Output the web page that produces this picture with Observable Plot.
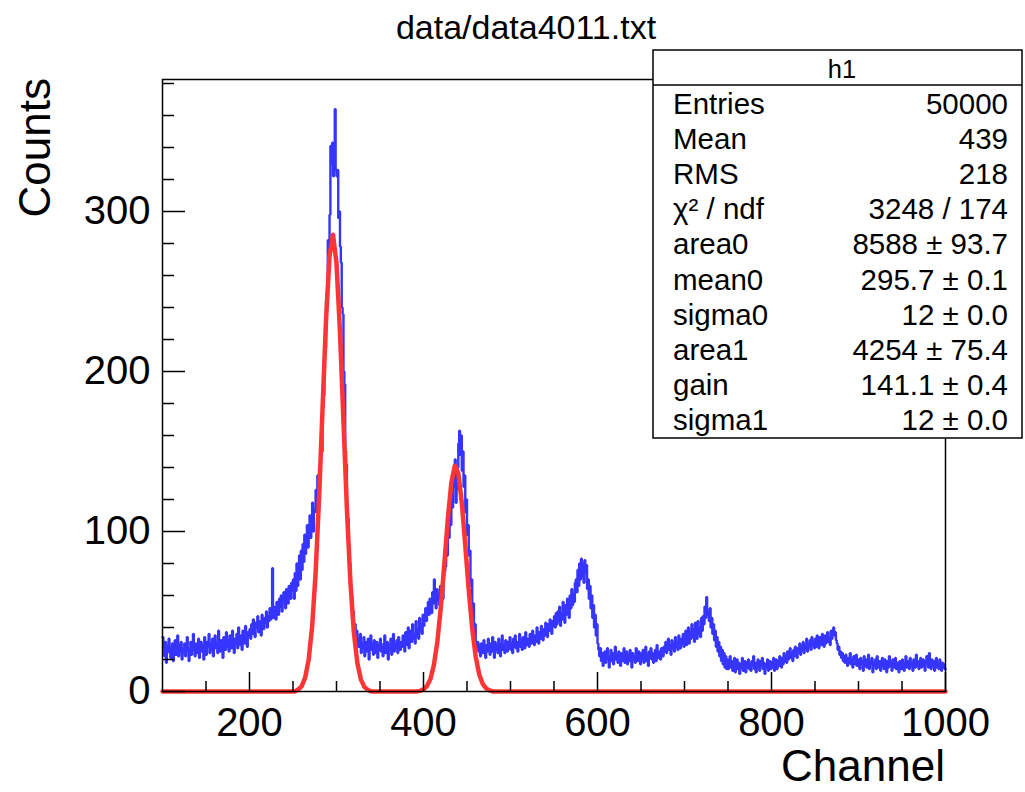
<!DOCTYPE html>
<html>
<head>
<meta charset="utf-8">
<script src="https://cdn.jsdelivr.net/npm/d3@7"></script>
<script src="https://cdn.jsdelivr.net/npm/@observablehq/plot@0.6"></script>
<style>
  html, body { margin: 0; padding: 0; background: white; }
  #wrap { position: relative; width: 1025px; height: 792px; font-family: "Liberation Sans", Arial, Helvetica, sans-serif; }
  #wrap svg { position: absolute; left: 0; top: 0; }
</style>
</head>
<body>
<div id="wrap"></div>
<script>
// ---- histogram: one bin per channel, first bin at channel 100 ----
const binLow = 100;
const binWidth = 1;
const counts = [
  34, 27, 22, 31, 18, 25, 29, 33, 24, 21, 28, 30, 19, 26, 32, 23, 27, 35, 22, 29, 25, 31, 20, 27, 24,
  30, 22, 28, 34, 25, 19, 27, 31, 23, 29, 36, 26, 22, 30, 28, 24, 33, 21, 27, 31, 25, 29, 20, 34, 27,
  23, 31, 28, 36, 24, 30, 26, 33, 22, 29, 35, 27, 31, 24, 38, 28, 25, 32, 29, 21, 34, 30, 26, 37, 28,
  32, 25, 35, 29, 27, 38, 31, 24, 33, 30, 36, 27, 40, 32, 29, 35, 26, 38, 33, 30, 41, 34, 28, 37, 35,
  39, 33, 42, 36, 45, 38, 34, 43, 40, 47, 37, 44, 41, 35, 48, 42, 39, 46, 43, 50, 40, 47, 44, 52, 45,
  49, 77, 46, 53, 50, 45, 56, 51, 48, 58, 53, 60, 50, 55, 62, 57, 52, 64, 59, 55, 66, 61, 58, 68, 63,
  70, 58, 74, 63, 80, 66, 72, 85, 70, 88, 76, 92, 81, 98, 86, 95, 104, 90, 100, 110, 96, 108, 118, 100, 112,
  114, 126, 112, 135, 122, 140, 130, 155, 150, 178, 185, 210, 215, 245, 250, 282, 276, 298, 341, 330, 343, 322, 341, 364, 326,
  322, 326, 296, 300, 278, 268, 240, 236, 200, 192, 150, 142, 112, 108, 82, 80, 62, 60, 45, 50, 36, 42, 30, 38, 28,
  33, 28, 36, 24, 30, 27, 34, 22, 29, 31, 25, 33, 20, 28, 35, 26, 30, 23, 32, 27, 24, 31, 21, 29, 26,
  33, 25, 28, 22, 30, 35, 24, 27, 31, 20, 29, 26, 33, 23, 28, 36, 25, 30, 27, 32, 24, 34, 29, 26, 31,
  28, 35, 30, 25, 37, 32, 29, 40, 27, 34, 38, 31, 42, 33, 36, 30, 44, 35, 39, 33, 46, 38, 42, 36, 48,
  41, 47, 52, 44, 50, 56, 48, 58, 53, 49, 62, 55, 70, 58, 52, 64, 57, 61, 54, 66, 60, 63, 58, 72, 75,
  78, 90, 85, 102, 96, 112, 104, 120, 115, 132, 128, 145, 118, 126, 140, 155, 163, 148, 160, 138, 150, 128, 135, 112, 120,
  98, 104, 85, 88, 66, 70, 50, 55, 38, 42, 30, 28, 31, 25, 29, 22, 30, 27, 24, 32, 26, 21, 29, 25, 33,
  27, 23, 30, 25, 34, 28, 21, 31, 26, 29, 24, 33, 27, 22, 30, 35, 26, 29, 24, 32, 28, 25, 31, 27, 34,
  26, 30, 24, 33, 28, 35, 27, 31, 25, 29, 36, 28, 32, 26, 34, 30, 27, 37, 29, 33, 31, 28, 36, 32, 30,
  38, 33, 29, 35, 31, 40, 34, 30, 37, 33, 41, 36, 32, 39, 35, 43, 37, 34, 42, 38, 45, 40, 36, 44, 41,
  47, 40, 49, 42, 50, 44, 53, 41, 49, 45, 56, 47, 43, 54, 48, 58, 50, 46, 60, 52, 64, 54, 61, 56, 68,
  70, 62, 76, 66, 80, 70, 83, 72, 80, 68, 82, 74, 79, 64, 70, 58, 66, 52, 60, 46, 54, 40, 48, 35, 42,
  30, 26, 22, 27, 19, 24, 16, 21, 25, 18, 23, 27, 20, 15, 22, 26, 19, 24, 17, 21, 28, 20, 23, 18, 25,
  21, 16, 24, 19, 22, 27, 18, 20, 25, 17, 23, 19, 26, 21, 15, 24, 20, 22, 18, 27, 23, 19, 25, 21, 17,
  24, 20, 26, 18, 22, 28, 19, 23, 16, 25, 21, 27, 20, 24, 18, 22, 26, 19, 29, 23, 21, 25, 20, 27, 24,
  22, 28, 25, 31, 24, 27, 33, 26, 29, 23, 32, 27, 30, 25, 34, 28, 31, 26, 35, 29, 27, 33, 30, 36, 28,
  32, 38, 29, 35, 40, 30, 37, 33, 42, 34, 39, 31, 43, 36, 33, 44, 36, 40, 34, 46, 38, 47, 42, 53, 46,
  59, 48, 50, 44, 52, 40, 46, 36, 42, 32, 38, 28, 34, 25, 31, 22, 28, 19, 26, 17, 24, 15, 22, 14, 20,
  14, 18, 22, 15, 19, 13, 17, 21, 12, 16, 20, 14, 18, 11, 17, 15, 21, 13, 16, 19, 12, 18, 15, 20, 14,
  17, 13, 19, 16, 22, 14, 18, 12, 17, 20, 15, 13, 19, 16, 21, 14, 18, 11, 17, 15, 20, 13, 16, 19, 14,
  18, 15, 21, 13, 17, 20, 14, 19, 16, 22, 18, 15, 21, 17, 24, 19, 22, 18, 25, 20, 23, 27, 21, 24, 19,
  26, 22, 28, 24, 21, 27, 25, 30, 23, 28, 26, 31, 24, 29, 27, 33, 25, 30, 28, 32, 26, 34, 29, 31, 27,
  33, 28, 35, 30, 27, 34, 31, 29, 36, 32, 28, 35, 30, 33, 37, 31, 34, 29, 38, 33, 36, 40, 35, 37, 32,
  30, 26, 28, 23, 25, 21, 24, 19, 22, 18, 23, 20, 16, 21, 18, 24, 17, 20, 15, 22, 19, 17, 23, 16, 20,
  18, 14, 21, 17, 19, 13, 22, 16, 20, 15, 18, 23, 14, 19, 17, 21, 12, 18, 16, 20, 14, 22, 17, 15, 19,
  13, 18, 21, 16, 14, 20, 17, 12, 19, 15, 22, 16, 18, 13, 20, 17, 15, 21, 14, 18, 16, 12, 19, 17, 14,
  20, 16, 13, 18, 22, 15, 17, 19, 14, 21, 16, 18, 13, 20, 17, 15, 23, 16, 19, 14, 18, 21, 15, 17, 20,
  16, 13, 19, 22, 17, 15, 24, 18, 14, 20, 16, 19, 13, 17, 21, 15, 18, 14, 20, 16, 13, 18, 15, 17, 14
];

// ---- fitted function (two gaussians) ----
const fitChannel = [
  100, 252, 256, 260, 264, 268, 272, 276, 280, 284, 288, 292, 296, 300, 304, 308, 312, 316, 320, 324, 328, 332, 336, 340,
  392, 396, 400, 404, 408, 412, 416, 420, 424, 428, 432, 436, 440, 444, 448, 452, 456, 460, 464, 468, 472, 476, 480, 1000
];
const fitCounts = [
  0, 0, 1.2, 3.4, 8.7, 19.9, 40.6, 74.2, 121.3, 177.5, 232.4, 272.3, 285.5, 267.7, 224.8, 168.8, 113.5, 68.3, 36.7, 17.7, 7.6, 2.9, 1.0, 0,
  0, 0.4, 1.3, 3.4, 7.9, 16.7, 31.5, 53.1, 80.1, 108.1, 130.5, 141.1, 136.5, 118.1, 91.5, 63.4, 39.3, 21.8, 10.8, 4.8, 1.9, 0.7, 0, 0
];

// ---- axes ----
const xMajor = [200, 400, 600, 800, 1000];
const xMinor = [150, 250, 300, 350, 450, 500, 550, 650, 700, 750, 850, 900, 950];
const yMajor = [0, 100, 200, 300];
const yMinor = [20, 40, 60, 80, 120, 140, 160, 180, 220, 240, 260, 280, 320, 340, 360, 380];
const xDomain = [100, 1000];
const yDomain = [0, 382.5];

// ---- texts ----
const title = "data/data4011.txt";
const xTitle = "Channel";
const yTitle = "Counts";
const statsName = "h1";
const statsLabels = ["Entries", "Mean", "RMS", "\u03C7\u00B2 / ndf", "area0", "mean0", "sigma0", "area1", "gain", "sigma1"];
const statsValues = ["50000", "439", "218", "3248 / 174", "8588 \u00B1 93.7", "295.7 \u00B1 0.1", "12 \u00B1 0.0", "4254 \u00B1 75.4", "141.1 \u00B1 0.4", "12 \u00B1 0.0"];

const FONT = '"Liberation Sans", Arial, Helvetica, sans-serif';

const hist = counts.map((c, i) => ({ch: binLow + i * binWidth, n: c}));
hist.push({ch: binLow + counts.length * binWidth, n: counts[counts.length - 1]});
const fit = fitChannel.map((c, i) => ({ch: c, n: fitCounts[i]}));

const blue = "#3535ff";
const red = "#ff3535";

const chart = Plot.plot({
  width: 1025,
  height: 792,
  marginLeft: 162,
  marginRight: 80,
  marginTop: 79,
  marginBottom: 101,
  style: {fontFamily: FONT, background: "transparent", color: "black", overflow: "visible"},
  x: {domain: xDomain},
  y: {domain: yDomain},
  marks: [
    Plot.line(hist, {x: "ch", y: "n", curve: "step-after", stroke: blue, strokeWidth: 2.4, strokeLinejoin: "miter"}),
    Plot.line(fit, {x: "ch", y: "n", stroke: red, strokeWidth: 4.5, strokeLinejoin: "round"}),
    Plot.frame({stroke: "black", strokeWidth: 1.5}),
    Plot.axisX(xMajor, {label: null, tickSize: -19, tickFormat: () => "", strokeWidth: 1.5}),
    Plot.axisX(xMinor, {label: null, tickSize: -10, tickFormat: () => "", strokeWidth: 1.5}),
    Plot.axisX(xMajor, {label: null, tickSize: 0, tickPadding: 16, fontSize: 40, tickFormat: d => String(d)}),
    Plot.axisY(yMajor, {label: null, tickSize: -23, tickFormat: () => "", strokeWidth: 1.5}),
    Plot.axisY(yMinor, {label: null, tickSize: -12, tickFormat: () => "", strokeWidth: 1.5}),
    Plot.axisY(yMajor, {label: null, tickSize: 0, tickPadding: 12, fontSize: 40, tickFormat: d => String(d)}),
  ]
});
document.getElementById("wrap").appendChild(chart);

// ---- overlay: titles and stats box ----
const ov = d3.select("#wrap").append("svg")
  .attr("width", 1025).attr("height", 792)
  .style("font-family", FONT);

ov.append("text").attr("x", 526).attr("y", 39).attr("text-anchor", "middle")
  .attr("font-size", 34).text(title);
ov.append("text").attr("x", 945).attr("y", 781).attr("text-anchor", "end")
  .attr("font-size", 44).text(xTitle);
ov.append("text").attr("transform", "translate(50,78) rotate(-90)").attr("text-anchor", "end")
  .attr("font-size", 44).text(yTitle);

const box = ov.append("g");
box.append("rect").attr("x", 653).attr("y", 50).attr("width", 369).attr("height", 388)
  .attr("fill", "white").attr("stroke", "black").attr("stroke-width", 1.5);
box.append("line").attr("x1", 653).attr("x2", 1022).attr("y1", 85).attr("y2", 85)
  .attr("stroke", "black").attr("stroke-width", 1.5);
box.append("text").attr("x", 842).attr("y", 78).attr("text-anchor", "middle")
  .attr("font-size", 25.5).text(statsName);
statsLabels.forEach((lab, i) => {
  const yb = 114 + 35.1 * i;
  box.append("text").attr("x", 673).attr("y", yb).attr("font-size", 29.5).text(lab);
  box.append("text").attr("x", 1008).attr("y", yb).attr("text-anchor", "end").attr("font-size", 29.5).text(statsValues[i]);
});
</script>
</body>
</html>
